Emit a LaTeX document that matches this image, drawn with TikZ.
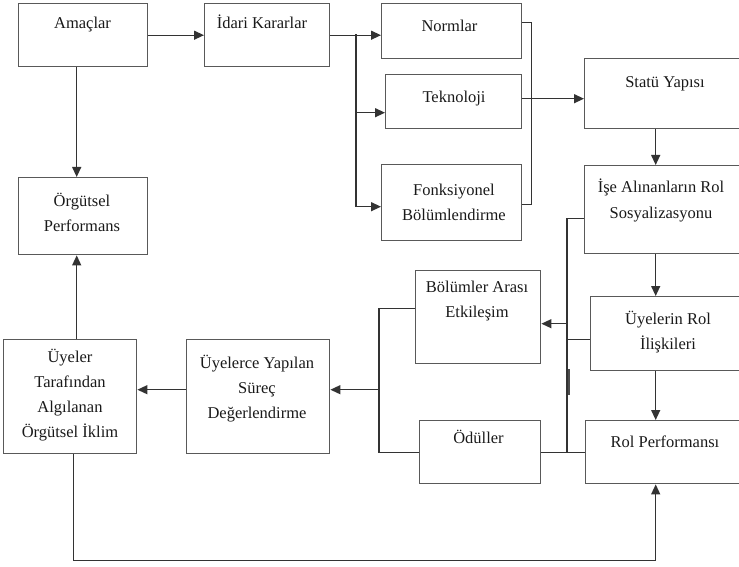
\documentclass[tikz,border=0pt]{standalone}
\usepackage{fontspec}
\setmainfont{Liberation Serif}
\usetikzlibrary{arrows.meta, positioning, calc}
\tikzset{
  box/.style={draw=black!65, line width=1.4pt, fill=none, inner sep=0pt, anchor=north west},
  lbl/.style={font=\fontsize{16.5}{25}\selectfont, text=black!90, align=center, inner sep=0pt, anchor=base},
  ln/.style={draw=black!80, line width=1.3pt},
  arr/.style={ln, -{Triangle[length=10pt,width=9pt]}},
}

\begin{document}
\begin{tikzpicture}[x=1pt, y=-1pt]
\useasboundingbox (0,0) rectangle (739,567);
\clip (0,0) rectangle (739,567);
% the boxes
\node[box, minimum width=129pt, minimum height=63pt] (amac) at (18,3) {};
\node[box, minimum width=125pt, minimum height=63pt] (idari) at (204,3) {};
\node[box, minimum width=129pt, minimum height=77pt] (orgperf) at (18,177) {};
\node[box, minimum width=140pt, minimum height=55pt] (norm) at (381,3) {};
\node[box, minimum width=136pt, minimum height=54pt] (tekno) at (385,74) {};
\node[box, minimum width=140pt, minimum height=76pt] (fonk) at (381,164) {};
\node[box, minimum width=162pt, minimum height=70pt] (statu) at (584,58) {};
\node[box, minimum width=162pt, minimum height=88pt] (ise) at (584,165) {};
\node[box, minimum width=125pt, minimum height=93pt] (bolum) at (415,270) {};
\node[box, minimum width=156pt, minimum height=74pt] (uyerol) at (590,296) {};
\node[box, minimum width=121pt, minimum height=63pt] (odul) at (419,420) {};
\node[box, minimum width=161pt, minimum height=63pt] (rolperf) at (585,420) {};
\node[box, minimum width=143pt, minimum height=114pt] (surec) at (186,339) {};
\node[box, minimum width=133pt, minimum height=114pt] (iklim) at (3,339) {};
% the texts, set near the top of each box (base = last line)
\node[lbl] (amac-t) at (82.5,29) {Amaçlar};
\node[lbl] (idari-t) at (262,29) {İdari Kararlar};
\node[lbl] (orgperf-t) at (82,231) {Örgütsel\\Performans};
\node[lbl] (norm-t) at (449.5,32) {Normlar};
\node[lbl] (tekno-t) at (454,103) {Teknoloji};
\node[lbl] (fonk-t) at (454,220) {Fonksiyonel\\Bölümlendirme};
\node[lbl] (statu-t) at (665,88) {Statü Yapısı};
\node[lbl] (ise-t) at (661,218) {İşe Alınanların Rol\\Sosyalizasyonu};
\node[lbl] (bolum-t) at (477,317) {Bölümler Arası\\Etkileşim};
\node[lbl] (uyerol-t) at (668,349) {Üyelerin Rol\\İlişkileri};
\node[lbl] (odul-t) at (478.5,443) {Ödüller};
\node[lbl] (rolperf-t) at (665,447) {Rol Performansı};
\node[lbl] (surec-t) at (257,418) {Üyelerce Yapılan\\Süreç\\Değerlendirme};
\node[lbl] (iklim-t) at (70,437) {Üyeler\\Tarafından\\Algılanan\\Örgütsel İklim};
% top row
\draw[arr] (amac.east) -- (idari.west);
\draw[arr] ([xshift=-6.5pt]amac.south) -- ([xshift=-6.5pt]orgperf.north);
\draw[arr] (idari.east) -- (norm.west |- idari.east);
\coordinate (split) at (356,34.5);
\draw[arr] (split) |- ([yshift=-11pt]tekno.west);
\draw[arr] (split) |- ([yshift=-4pt]fonk.west);
\draw[ln] ([yshift=8.5pt]norm.east) -- ++(9,0) |- ([yshift=-2pt]fonk.east);
\draw[arr] ([yshift=3pt]tekno.east) -- ([yshift=3pt]tekno.east -| statu.west);
% right column
\draw[arr] ([xshift=-10pt]statu.south) -- ([xshift=-10pt]ise.north);
\draw[arr] ([xshift=-10pt]ise.south) -- ([xshift=-10pt]ise.south |- uyerol.north);
\draw[arr] ([xshift=-13pt]uyerol.south) -- ([xshift=-13pt]uyerol.south |- rolperf.north);
% feedback lines
\draw[ln] ([yshift=-9pt]ise.west) -- ++(-17,0) coordinate (busR) -- (busR |- odul.east);
\draw[ln] ([yshift=-6pt]uyerol.west) -- ([yshift=-6pt]uyerol.west -| busR);
\draw[arr] ([yshift=-6.5pt]bolum.east -| busR) -- ([yshift=-6.5pt]bolum.east);
\draw[ln] (odul.east) -- (rolperf.west);
\draw[black!70, line width=2pt] ($(busR |- odul.east)+(2,-83)$) -- ++(0,26);
\draw[ln] ([yshift=8.5pt]bolum.west) -- ++(-36,0) coordinate (busL) |- (odul.west);
\draw[arr] ([yshift=7pt]surec.east -| busL) -- ([yshift=7pt]surec.east);
\draw[arr] ([yshift=7pt]surec.west) -- ([yshift=7pt]iklim.east);
\draw[arr] ([xshift=6.5pt]iklim.north) -- ([xshift=6.5pt]iklim.north |- orgperf.south);
\draw[arr] ([xshift=3.5pt]iklim.south) -- ++(0,106) -| ([xshift=-10.5pt]rolperf.south);
\end{tikzpicture}
\end{document}
